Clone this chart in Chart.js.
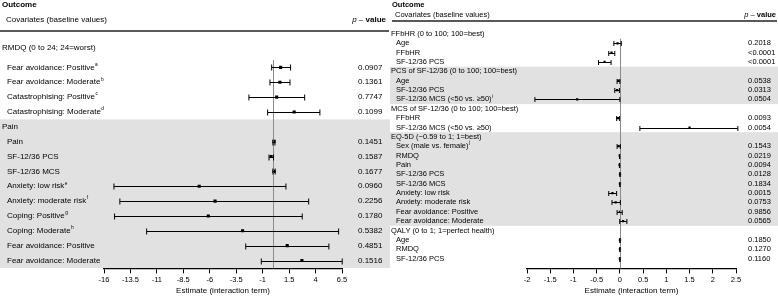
<!DOCTYPE html>
<html><head><meta charset="utf-8">
<script src="https://cdn.jsdelivr.net/npm/chart.js@4.4.0/dist/chart.umd.min.js"></script>
<style>
html,body{margin:0;padding:0;background:#fff;}
#wrap{position:relative;width:778px;height:297px;overflow:hidden;background:#fff;}
#c1{position:absolute;left:0;top:0;}
#c2{position:absolute;left:390px;top:0;}
</style></head><body>
<div id="wrap"><canvas id="c1" width="390" height="297"></canvas><canvas id="c2" width="388" height="297"></canvas></div>
<script>
// ---------------- LEFT PANEL DATA ----------------
const leftGroups = ["RMDQ (0 to 24; 24=worst)", "Pain"];
const leftGroupOf = [0,0,0,0, 1,1,1,1,1,1,1,1,1];
const leftLabels = ["Fear avoidance: Positive","Fear avoidance: Moderate","Catastrophising: Positive","Catastrophising: Moderate",
  "Pain","SF-12/36 PCS","SF-12/36 MCS","Anxiety: low risk","Anxiety: moderate risk","Coping: Positive","Coping: Moderate",
  "Fear avoidance: Positive","Fear avoidance: Moderate"];
const leftSup = ["a","b","c","d","","","","e","f","g","h","",""];
const leftEst  = [0.70, 0.63, 0.32, 1.98, 0.07, -0.20, 0.08, -7.0, -5.5, -6.14, -2.9, 1.32, 2.71];
const leftLow  = [-0.15, -0.31, -2.30, -0.53, -0.03, -0.40, -0.03, -15.06, -14.5, -15.0, -11.97, -2.6, -1.13];
const leftHigh = [1.64, 1.58, 2.97, 4.41, 0.16, 0.03, 0.18, 1.2, 3.35, 2.74, 6.18, 5.26, 6.52];
const leftP = ["0.0907","0.1361","0.7747","0.1099","0.1451","0.1587","0.1677","0.0960","0.2256","0.1780","0.5382","0.4851","0.1516"];
const leftShaded = [1];
const leftTicks = {min:-16, max:6.5, step:2.5};

// ---------------- RIGHT PANEL DATA ----------------
const rightGroups = ["FFbHR (0 to 100; 100=best)","PCS of SF-12/36 (0 to 100; 100=best)","MCS of SF-12/36 (0 to 100; 100=best)",
  "EQ-5D (\u22120.59 to 1; 1=best)","QALY (0 to 1; 1=perfect health)"];
const rightGroupOf = [0,0,0, 1,1,1, 2,2, 3,3,3,3,3,3,3,3,3, 4,4,4];
const rightLabels = ["Age","FFbHR","SF-12/36 PCS",
  "Age","SF-12/36 PCS","SF-12/36 MCS (<50 vs. \u226550)",
  "FFbHR","SF-12/36 MCS (<50 vs. \u226550)",
  "Sex (male vs. female)","RMDQ","Pain","SF-12/36 PCS","SF-12/36 MCS","Anxiety: low risk","Anxiety: moderate risk","Fear avoidance: Positive","Fear avoidance: Moderate",
  "Age","RMDQ","SF-12/36 PCS"];
const rightSup = ["","","", "","","i", "","", "j","","","","","","","","", "","",""];
const rightEst  = [-0.05, -0.18, -0.33, -0.03, -0.06, -0.92, -0.04, 1.50, -0.03, -0.004, -0.006, 0.003, 0.001, -0.16, -0.09, 0.00, 0.07, 0.002, 0.001, 0.001];
const rightLow  = [-0.13, -0.24, -0.46, -0.06, -0.11, -1.83, -0.07, 0.43, -0.06, -0.008, -0.010, 0.000, -0.002, -0.24, -0.17, -0.06, -0.003, -0.001, -0.002, -0.001];
const rightHigh = [0.03, -0.11, -0.19, 0.00, -0.01, 0.00, -0.01, 2.54, 0.01, -0.001, -0.002, 0.006, 0.004, -0.07, 0.01, 0.05, 0.15, 0.005, 0.004, 0.003];
const rightP = ["0.2018","<0.0001","<0.0001","0.0538","0.0313","0.0504","0.0093","0.0054","0.1543","0.0219","0.0094","0.0128","0.1834","0.0015","0.0753","0.9856","0.0565","0.1850","0.1270","0.1160"];
const rightShaded = [1,3];
const rightTicks = {min:-2, max:2.5, step:0.5};

const FONT = "'Liberation Sans', Arial, sans-serif";

function buildRows(groups, groupOf, labels, sups, est, lo, hi, pv, firstGap) {
  const rows = [];
  let r = 0, lastG = -1;
  groupOf.forEach((g, i) => {
    if (g !== lastG) {
      if (lastG < 0) rows.push({type:'h', text:groups[g], y:-firstGap, g});
      else { rows.push({type:'h', text:groups[g], y:r, g}); r++; }
      lastG = g;
    }
    rows.push({type:'i', text:labels[i], sup:sups[i], est:est[i], lo:lo[i], hi:hi[i], p:pv[i], y:r, g});
    r++;
  });
  return rows;
}

function makePanel(canvas, P) {
  const rows = buildRows(P.groups, P.groupOf, P.labels, P.sups, P.est, P.lo, P.hi, P.pv, P.firstGap);
  const items = rows.filter(r => r.type === 'i');
  const W = canvas.width;

  const panelPlugin = {
    id: 'panel' + canvas.id,
    beforeDraw(chart) {
      const ctx = chart.ctx, ys = chart.scales.y;
      ctx.save();
      ctx.fillStyle = '#ffffff';
      ctx.fillRect(0, 0, W, chart.height);
      ctx.fillStyle = '#e1e1e1';
      P.shaded.forEach(g => {
        const grp = rows.filter(r => r.g === g);
        const y0 = ys.getPixelForValue(Math.min(...grp.map(r => r.y)) - 0.5);
        const y1 = ys.getPixelForValue(Math.max(...grp.map(r => r.y)) + 0.5);
        ctx.fillRect(P.bandX0, y0, P.bandX1 - P.bandX0, Math.min(y1, chart.chartArea.bottom) - y0);
      });
      ctx.restore();
    },
    afterDatasetsDraw(chart) {
      const ctx = chart.ctx, xs = chart.scales.x, ys = chart.scales.y;
      ctx.save();
      // reference line at 0
      const x0 = Math.round(xs.getPixelForValue(0)) + 0.5;
      ctx.strokeStyle = '#8a8a8a'; ctx.lineWidth = 1;
      ctx.beginPath();
      ctx.moveTo(x0, ys.getPixelForValue(items[0].y - 0.5));
      ctx.lineTo(x0, chart.chartArea.bottom);
      ctx.stroke();
      // error bars
      ctx.strokeStyle = '#000'; ctx.lineWidth = 1;
      items.forEach(r => {
        const y = Math.round(ys.getPixelForValue(r.y)) + 0.5;
        const a = xs.getPixelForValue(r.lo), b = xs.getPixelForValue(r.hi);
        ctx.beginPath();
        ctx.moveTo(a, y); ctx.lineTo(b, y);
        ctx.moveTo(a, y - P.cap); ctx.lineTo(a, y + P.cap);
        ctx.moveTo(b, y - P.cap); ctx.lineTo(b, y + P.cap);
        ctx.stroke();
      });
      // texts
      ctx.fillStyle = '#000';
      ctx.textBaseline = 'middle';
      ctx.textAlign = 'left';
      ctx.font = 'bold ' + P.fs + 'px ' + FONT;
      ctx.fillText('Outcome', P.outX, P.outY);
      ctx.font = P.fs + 'px ' + FONT;
      ctx.fillText('Covariates (baseline values)', P.covX, P.covY);
      // p - value header (right aligned)
      const parts = [['italic ', 'p'], ['', ' \u2013 '], ['bold ', 'value']];
      let tw = 0;
      parts.forEach(pp => { ctx.font = pp[0] + P.fs + 'px ' + FONT; tw += ctx.measureText(pp[1]).width; });
      let px = P.pRight - tw;
      parts.forEach(pp => { ctx.font = pp[0] + P.fs + 'px ' + FONT; ctx.fillText(pp[1], px, P.covY); px += ctx.measureText(pp[1]).width; });
      // rule
      ctx.strokeStyle = '#222'; ctx.lineWidth = 1.5;
      ctx.beginPath(); ctx.moveTo(P.ruleX0, P.ruleY); ctx.lineTo(P.ruleX1, P.ruleY); ctx.stroke();
      // rows
      rows.forEach(r => {
        const y = ys.getPixelForValue(r.y);
        ctx.font = P.fs + 'px ' + FONT;
        ctx.textAlign = 'left';
        if (r.type === 'h') {
          ctx.fillText(r.text, P.headX, y);
        } else {
          ctx.fillText(r.text, P.itemX, y);
          if (r.sup) {
            const w = ctx.measureText(r.text).width;
            ctx.font = (P.fs * 0.6) + 'px ' + FONT;
            ctx.fillText(r.sup, P.itemX + w + 0.5, y - 3);
            ctx.font = P.fs + 'px ' + FONT;
          }
          ctx.fillText(r.p, P.pvX, y);
        }
      });
      ctx.restore();
    }
  };

  return new Chart(canvas, {
    type: 'scatter',
    data: {
      datasets: [{
        data: items.map(r => ({x: r.est, y: r.y})),
        pointStyle: 'rect', pointRadius: P.pr, backgroundColor: '#000', borderColor: '#000', borderWidth: 0
      }]
    },
    options: {
      responsive: false, animation: false, devicePixelRatio: 1,
      layout: {padding: {left: P.padL, right: P.padR, top: P.padT, bottom: P.padB}},
      plugins: {legend: {display: false}, tooltip: {enabled: false}},
      scales: {
        x: {
          type: 'linear', position: 'bottom', min: P.ticks.min, max: P.ticks.max,
          ticks: {stepSize: P.ticks.step, autoSkip: false, maxRotation: 0, padding: 2, color: '#000',
                  font: {family: FONT, size: 7.5}, callback: v => String(v)},
          grid: {display: true, drawOnChartArea: false, drawTicks: true, tickLength: 5, color: '#000', lineWidth: 1},
          border: {display: true, color: '#000', width: 1.3},
          title: {display: true, text: 'Estimate (interaction term)', color: '#000', font: {family: FONT, size: 8}, padding: {top: 0, bottom: 0}}
        },
        y: {type: 'linear', display: false, reverse: true, min: P.ymin, max: P.ymax}
      }
    },
    plugins: [panelPlugin]
  });
}

// left: item rows spaced 15.08px starting y=68; chart area 28..272
makePanel(document.getElementById('c1'), {
  groups: leftGroups, groupOf: leftGroupOf, labels: leftLabels, sups: leftSup,
  est: leftEst, lo: leftLow, hi: leftHigh, pv: leftP, shaded: leftShaded, ticks: leftTicks,
  firstGap: 1.35, ymin: -2.65, ymax: 13.53,
  padL: 104, padR: 48, padT: 28, padB: 1,
  fs: 8, outX: 2, outY: 5, covX: 6, covY: 20, ruleY: 31, ruleX0: 0, ruleX1: 389, pRight: 386,
  pvX: 358, headX: 2, itemX: 7, bandX0: 0, bandX1: 390, cap: 3, pr: 2.2
});
// right: rows spaced 9.5px, header 0 at y=34
makePanel(document.getElementById('c2'), {
  groups: rightGroups, groupOf: rightGroupOf, labels: rightLabels, sups: rightSup,
  est: rightEst, lo: rightLow, hi: rightHigh, pv: rightP, shaded: rightShaded, ticks: rightTicks,
  firstGap: 1, ymin: -1.63, ymax: 24.05,
  padL: 137, padR: 42, padT: 28, padB: 1,
  fs: 7.5, outX: 2, outY: 5, covX: 5, covY: 15, ruleY: 21, ruleX0: 2, ruleX1: 387, pRight: 386,
  pvX: 358, headX: 1, itemX: 6, bandX0: 0, bandX1: 388, cap: 2.5, pr: 1.6
});
</script>
</body></html>
